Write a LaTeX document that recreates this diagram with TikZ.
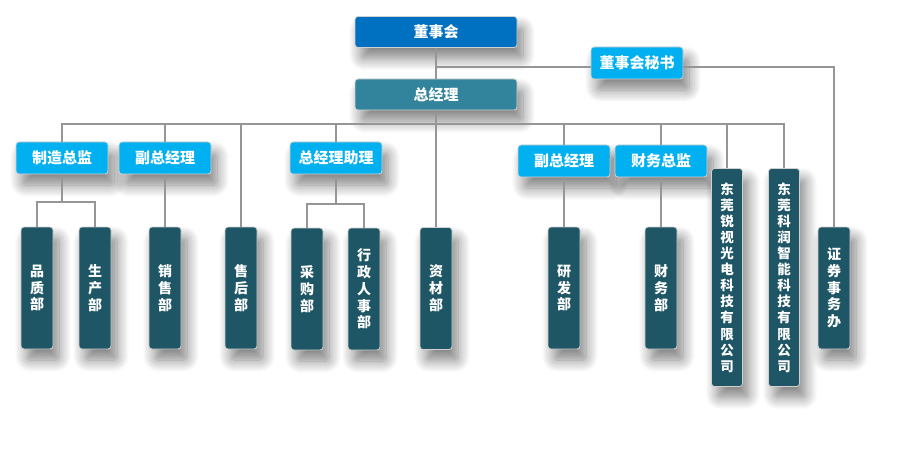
\documentclass[tikz,border=0pt]{standalone}
\usepackage{fontspec}
\setmainfont{Noto Sans CJK SC}
\usetikzlibrary{positioning,shadows.blur}
\definecolor{boardblue}{RGB}{0,112,192}
\definecolor{gmteal}{RGB}{49,132,155}
\definecolor{postblue}{RGB}{0,176,240}
\definecolor{deptteal}{RGB}{31,86,102}
\definecolor{linegray}{RGB}{150,150,150}
\tikzset{card/.style={draw=white!82!black,line width=0.8pt,rounded corners=3pt,inner sep=0pt,text=white,
    blur shadow={shadow xshift=6pt,shadow yshift=-11pt,shadow blur radius=12pt,shadow blur steps=12,shadow opacity=50}}}
\tikzset{head/.style={card,minimum width=162pt,minimum height=31pt,font=\fontsize{15}{17}\bfseries}}
\tikzset{post/.style={card,fill=postblue,minimum width=92pt,minimum height=32pt,font=\fontsize{15}{17}\bfseries}}
\tikzset{dept/.style={card,fill=deptteal,minimum width=32pt,minimum height=122pt,align=center,
    font=\fontsize{14}{16.8}\bfseries}}
\tikzset{firm/.style={dept,minimum width=31pt,minimum height=218pt,font=\fontsize{13.5}{16.1}\bfseries}}
\tikzset{link/.style={draw=linegray,line width=1.2pt}}

\begin{document}
\begin{tikzpicture}[x=1pt,y=-1pt,on grid]
        \useasboundingbox (0,0) rectangle (900,468);
        \node(board)[head,fill=boardblue] at (436,32){董事会};
        \node(gm)[head,fill=gmteal,below=62.5pt of board]{总经理};
        \node(secr)[post,above right=31.5pt and 201pt of gm]{董事会秘书};
        \node(mfg)[post,below left=63.5pt and 374pt of gm]{制造总监};
        \node(vpa)[post,right=103pt of mfg]{副总经理};
        \node(asst)[post,right=171pt of vpa]{总经理助理};
        \node(vpb)[post,below right=66.5pt and 128pt of gm]{副总经理};
        \node(cfo)[post,right=97pt of vpb]{财务总监};
        \node(qc)[dept,below left=130pt and 25pt of mfg]{品\\质\\部};
        \node(prod)[dept,below right=130pt and 33pt of mfg]{生\\产\\部};
        \node(sales)[dept,below=130pt of vpa]{销\\售\\部};
        \node(after)[dept,below left=193.5pt and 195pt of gm]{售\\后\\部};
        \node(purch)[dept,below left=131pt and 29pt of asst]{采\\购\\部};
        \node(admin)[dept,below right=131pt and 28pt of asst]{行\\政\\人\\事\\部};
        \node(mat)[dept,below=194pt of gm]{资\\材\\部};
        \node(rnd)[dept,below=127pt of vpb]{研\\发\\部};
        \node(fin)[dept,below=127pt of cfo]{财\\务\\部};
        \node(rui)[firm,below right=183pt and 291pt of gm]{东\\莞\\锐\\视\\光\\电\\科\\技\\有\\限\\公\\司};
        \node(kerun)[firm,right=57pt of rui]{东\\莞\\科\\润\\智\\能\\科\\技\\有\\限\\公\\司};
        \node(sec)[dept,below right=225pt and 197pt of secr]{证\\券\\事\\务\\办};
        \coordinate[below=35pt of board](tap);
        \coordinate[below=29.5pt of gm](bus);
        \coordinate[below=44pt of mfg](mfgsplit);
        \coordinate[below=46pt of asst](asstsplit);
        \draw[link]
        (board) -- (gm) (gm) -- (bus) (bus) -- (mat)
        (bus) -| (mfg) (bus) -| (vpa) (bus) -| (after) (bus) -| (asst)
        (bus) -| (vpb) (bus) -| (cfo) (bus) -| (rui) (bus) -| (kerun)
        (tap) -- (tap -| secr.west) (secr.east |- tap) -| (sec)
        (mfg) -- (mfgsplit) (mfgsplit) -| (qc) (mfgsplit) -| (prod)
        (asst) -- (asstsplit) (asstsplit) -| (purch) (asstsplit) -| (admin)
        (vpa) -- (sales) (vpb) -- (rnd) (cfo) -- (fin);
      \end{tikzpicture}
\end{document}
